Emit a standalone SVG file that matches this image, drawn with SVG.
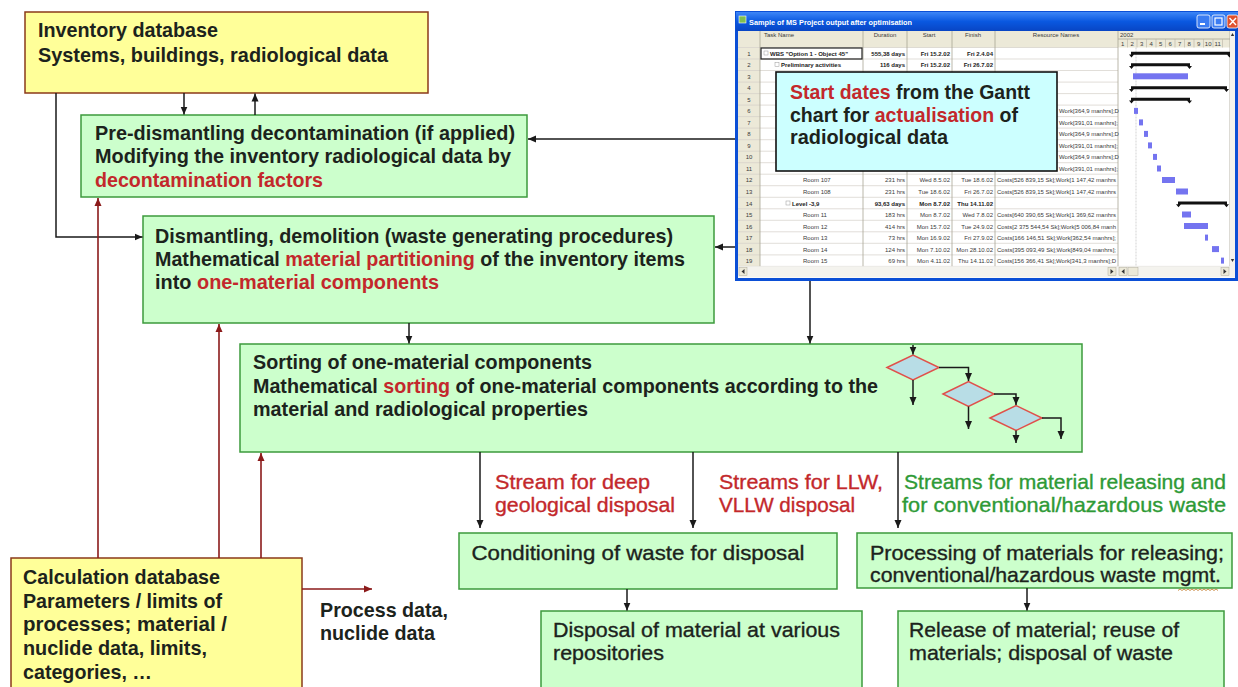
<svg xmlns="http://www.w3.org/2000/svg" width="1238" height="687" viewBox="0 0 1238 687">
<defs>
<style>
.yb{fill:#FFFF99;stroke:#8B3A1A;stroke-width:1.5}
.gb{fill:#CCFFCC;stroke:#3C9A3C;stroke-width:1.5}
.t{font-family:"Liberation Sans",Arial,sans-serif;font-weight:bold;font-size:19.7px;fill:#1C231C}
.n{font-family:"Liberation Sans",Arial,sans-serif;font-size:21px;fill:#1C231C;stroke:#1C231C;stroke-width:0.35}
.r{fill:#C3282B}
.n.r{stroke:#C3282B}
.g{fill:#2E9A36}
.n.g{stroke:#2E9A36}
.k{stroke:#1a1a1a;stroke-width:1.5;fill:none}
.dr{stroke:#8B1A1A;stroke-width:1.6;fill:none}
.dm{fill:#B8DDE6;stroke:#E0504A;stroke-width:1.5}
.s{font-family:"Liberation Sans",Arial,sans-serif;font-size:6px;fill:#3a3a3a}
.sb{font-weight:bold;fill:#222}
.ra{text-anchor:end}
.mid{text-anchor:middle}
.grid{stroke:#D4D0C8;stroke-width:0.7;fill:none}
.bar{fill:#7474F0}
.sum{fill:#111}
.btn{fill:#ECE9D8;stroke:#B0AC9C;stroke-width:0.5}
</style>
<linearGradient id="tb" x1="0" y1="0" x2="0" y2="1">
<stop offset="0" stop-color="#3D86F7"/>
<stop offset="0.5" stop-color="#0A58E0"/>
<stop offset="1" stop-color="#0845C4"/>
</linearGradient>
<marker id="ak" markerUnits="userSpaceOnUse" markerWidth="9" markerHeight="8" refX="8" refY="4" orient="auto"><path d="M0,0.5 L8,4 L0,7.5 z" fill="#1a1a1a"/></marker>
<marker id="ar" markerUnits="userSpaceOnUse" markerWidth="9" markerHeight="8" refX="8" refY="4" orient="auto"><path d="M0,0.5 L8,4 L0,7.5 z" fill="#8B1A1A"/></marker>
</defs>
<rect x="0" y="0" width="1238" height="687" fill="#FFFFFF"/>

<!-- Gantt screenshot -->
<g id="gantt-screenshot">
<rect x="735" y="11" width="503" height="270" fill="#0B4FD6"/>
<rect x="736" y="12" width="502" height="19" fill="url(#tb)"/>
<rect x="739" y="16" width="7" height="7" fill="#7FBF4F" stroke="#fff" stroke-width="0.6"/>
<text x="749" y="25" font-family="Liberation Sans, Arial, sans-serif" font-size="7.5" font-weight="bold" fill="#FFFFFF" textLength="163" lengthAdjust="spacingAndGlyphs">Sample of MS Project output after optimisation</text>
<rect x="1197" y="15" width="13" height="13" rx="2" fill="#3B7CF2" stroke="#fff" stroke-width="0.8"/>
<rect x="1200" y="23" width="5" height="2" fill="#fff"/>
<rect x="1212" y="15" width="13" height="13" rx="2" fill="#3B7CF2" stroke="#fff" stroke-width="0.8"/>
<rect x="1215" y="18" width="7" height="7" fill="none" stroke="#fff" stroke-width="1.2"/>
<rect x="1227" y="15" width="11" height="13" rx="2" fill="#E0502E" stroke="#fff" stroke-width="0.8"/>
<path d="M1229.5,18 L1236,25 M1236,18 L1229.5,25" stroke="#fff" stroke-width="1.4"/>
<rect x="738" y="31" width="497" height="247" fill="#FFFFFF"/>
<rect x="738" y="31" width="492" height="16.5" fill="#ECE9D8"/>
<rect x="738" y="47.5" width="22" height="219" fill="#ECE9D8"/>
<path class="grid" d="M738,47.5H1118M738,59H1118M738,70.5H1118M738,82.1H1118M738,93.6H1118M738,105.1H1118M738,116.6H1118M738,128.1H1118M738,139.7H1118M738,151.2H1118M738,162.7H1118M738,174.2H1118M738,185.7H1118M738,197.3H1118M738,208.8H1118M738,220.3H1118M738,231.8H1118M738,243.3H1118M738,254.9H1118M738,266.4H1230"/>
<path d="M760,31V266.4M863,31V266.4M907,31V266.4M952,31V266.4M995,31V266.4M1118,31V266.4M1230,31V266.4M1118,39H1230" stroke="#A8A496" stroke-width="0.8" fill="none"/>
<path d="M1127.5,39V47.5M1137,39V47.5M1146.5,39V47.5M1156,39V47.5M1165.5,39V47.5M1175,39V47.5M1184.5,39V47.5M1194,39V47.5M1203.5,39V47.5M1213,39V47.5M1222.5,39V47.5" stroke="#B8B4A6" stroke-width="0.6"/>
<text class="s" x="764" y="37">Task Name</text>
<text class="s mid" x="885" y="37">Duration</text>
<text class="s mid" x="929" y="37">Start</text>
<text class="s mid" x="973" y="37">Finish</text>
<text class="s mid" x="1056" y="37">Resource Names</text>
<text class="s" x="1120" y="37">2002</text>
<text class="s mid" x="1122.7" y="45.5">1</text><text class="s mid" x="1132.2" y="45.5">2</text><text class="s mid" x="1141.7" y="45.5">3</text><text class="s mid" x="1151.2" y="45.5">4</text><text class="s mid" x="1160.7" y="45.5">5</text><text class="s mid" x="1170.2" y="45.5">6</text><text class="s mid" x="1179.7" y="45.5">7</text><text class="s mid" x="1189.2" y="45.5">8</text><text class="s mid" x="1198.7" y="45.5">9</text><text class="s mid" x="1208.2" y="45.5">10</text><text class="s mid" x="1217.7" y="45.5">11</text>
<path d="M1136,47.5V266.4" stroke="#C8C8C8" stroke-width="0.8" stroke-dasharray="2,1"/>
<g class="s mid">
<text x="749" y="55.7">1</text><text x="749" y="67.2">2</text><text x="749" y="78.7">3</text><text x="749" y="90.3">4</text><text x="749" y="101.8">5</text><text x="749" y="113.3">6</text><text x="749" y="124.8">7</text><text x="749" y="136.3">8</text><text x="749" y="147.9">9</text><text x="749" y="159.4">10</text><text x="749" y="170.9">11</text><text x="749" y="182.4">12</text><text x="749" y="193.9">13</text><text x="749" y="205.5">14</text><text x="749" y="217">15</text><text x="749" y="228.5">16</text><text x="749" y="240">17</text><text x="749" y="251.5">18</text><text x="749" y="263.1">19</text>
</g>
<rect x="761" y="48" width="101" height="11" fill="none" stroke="#222" stroke-width="1.2"/>
<rect x="764" y="51" width="4" height="4" fill="#fff" stroke="#999" stroke-width="0.5"/>
<text class="s sb" x="770" y="55.7">WBS "Option 1 - Object 45"</text>
<text class="s sb ra" x="905" y="55.7">555,38 days</text>
<text class="s sb ra" x="950" y="55.7">Fri 15.2.02</text>
<text class="s sb ra" x="993" y="55.7">Fri 2.4.04</text>
<rect x="775" y="62.5" width="4" height="4" fill="#fff" stroke="#999" stroke-width="0.5"/>
<text class="s sb" x="781" y="67.2">Preliminary activities</text>
<text class="s sb ra" x="905" y="67.2">116 days</text>
<text class="s sb ra" x="950" y="67.2">Fri 15.2.02</text>
<text class="s sb ra" x="993" y="67.2">Fri 26.7.02</text>
<text class="s" x="1059" y="113.3">Work[364,9 manhrs];D</text>
<text class="s" x="1059" y="124.8">Work[391,01 manhrs];</text>
<text class="s" x="1059" y="136.3">Work[364,9 manhrs];D</text>
<text class="s" x="1059" y="147.9">Work[391,01 manhrs];</text>
<text class="s" x="1059" y="159.4">Work[364,9 manhrs];D</text>
<text class="s" x="1059" y="170.9">Work[391,01 manhrs];</text>
<text class="s" x="803" y="182.4">Room 107</text>
<text class="s ra" x="905" y="182.4">231 hrs</text>
<text class="s ra" x="950" y="182.4">Wed 8.5.02</text>
<text class="s ra" x="993" y="182.4">Tue 18.6.02</text>
<text class="s" x="997" y="182.4" textLength="119" lengthAdjust="spacingAndGlyphs">Costs[526 839,15 Sk];Work[1 147,42 manhrs</text>
<text class="s" x="803" y="193.9">Room 108</text>
<text class="s ra" x="905" y="193.9">231 hrs</text>
<text class="s ra" x="950" y="193.9">Tue 18.6.02</text>
<text class="s ra" x="993" y="193.9">Fri 26.7.02</text>
<text class="s" x="997" y="193.9" textLength="119" lengthAdjust="spacingAndGlyphs">Costs[526 839,15 Sk];Work[1 147,42 manhrs</text>
<rect x="786" y="201" width="4" height="4" fill="#fff" stroke="#999" stroke-width="0.5"/>
<text class="s sb" x="792" y="205.5">Level -3,9</text>
<text class="s sb ra" x="905" y="205.5">93,63 days</text>
<text class="s sb ra" x="950" y="205.5">Mon 8.7.02</text>
<text class="s sb ra" x="993" y="205.5">Thu 14.11.02</text>
<text class="s" x="803" y="217">Room 11</text>
<text class="s ra" x="905" y="217">183 hrs</text>
<text class="s ra" x="950" y="217">Mon 8.7.02</text>
<text class="s ra" x="993" y="217">Wed 7.8.02</text>
<text class="s" x="997" y="217" textLength="119" lengthAdjust="spacingAndGlyphs">Costs[640 390,65 Sk];Work[1 369,62 manhrs</text>
<text class="s" x="803" y="228.5">Room 12</text>
<text class="s ra" x="905" y="228.5">414 hrs</text>
<text class="s ra" x="950" y="228.5">Mon 15.7.02</text>
<text class="s ra" x="993" y="228.5">Tue 24.9.02</text>
<text class="s" x="997" y="228.5" textLength="119" lengthAdjust="spacingAndGlyphs">Costs[2 375 544,54 Sk];Work[5 006,84 manh</text>
<text class="s" x="803" y="240">Room 13</text>
<text class="s ra" x="905" y="240">73 hrs</text>
<text class="s ra" x="950" y="240">Mon 16.9.02</text>
<text class="s ra" x="993" y="240">Fri 27.9.02</text>
<text class="s" x="997" y="240" textLength="119" lengthAdjust="spacingAndGlyphs">Costs[166 146,51 Sk];Work[362,54 manhrs];</text>
<text class="s" x="803" y="251.5">Room 14</text>
<text class="s ra" x="905" y="251.5">124 hrs</text>
<text class="s ra" x="950" y="251.5">Mon 7.10.02</text>
<text class="s ra" x="993" y="251.5">Mon 28.10.02</text>
<text class="s" x="997" y="251.5" textLength="119" lengthAdjust="spacingAndGlyphs">Costs[395 093,49 Sk];Work[849,04 manhrs];</text>
<text class="s" x="803" y="263.1">Room 15</text>
<text class="s ra" x="905" y="263.1">69 hrs</text>
<text class="s ra" x="950" y="263.1">Mon 4.11.02</text>
<text class="s ra" x="993" y="263.1">Thu 14.11.02</text>
<text class="s" x="997" y="263.1" textLength="119" lengthAdjust="spacingAndGlyphs">Costs[156 366,41 Sk];Work[341,3 manhrs];D</text>
<path class="sum" d="M1131,51.8H1230V54.8H1131Z M1129,54.5H1134L1131.5,57.5Z M1227,54.5H1232L1229.5,57.5Z"/>
<path class="sum" d="M1131,63.3H1190V66.3H1131Z M1129,66H1134L1131.5,69Z M1187,66H1192L1189.5,69Z"/>
<rect class="bar" x="1133" y="73.3" width="55" height="6"/>
<path class="sum" d="M1131,86.3H1227V89.3H1131Z M1129,89H1134L1131.5,92Z M1224,89H1229L1226.5,92Z"/>
<path class="sum" d="M1131,97.8H1190V100.8H1131Z M1129,100.5H1134L1131.5,103.5Z M1187,100.5H1192L1189.5,103.5Z"/>
<rect class="bar" x="1134" y="107.9" width="4" height="6"/>
<rect class="bar" x="1139" y="119.4" width="4" height="6"/>
<rect class="bar" x="1144" y="130.9" width="4" height="6"/>
<rect class="bar" x="1148" y="142.4" width="4" height="6"/>
<rect class="bar" x="1153" y="153.9" width="4" height="6"/>
<rect class="bar" x="1157" y="165.5" width="4" height="6"/>
<rect class="bar" x="1162" y="177" width="13" height="6"/>
<rect class="bar" x="1176" y="188.5" width="12" height="6"/>
<path class="sum" d="M1178,201.5H1227V204.5H1178Z M1176,204.2H1181L1178.5,207.2Z M1224,204.2H1229L1226.5,207.2Z"/>
<rect class="bar" x="1182" y="211.5" width="9" height="6"/>
<rect class="bar" x="1184" y="223" width="24" height="6"/>
<rect class="bar" x="1205" y="234.6" width="3" height="6"/>
<rect class="bar" x="1212" y="246.1" width="7" height="6"/>
<rect class="bar" x="1221" y="257.6" width="3" height="6"/>
<rect x="738" y="266.4" width="497" height="11" fill="#F4F3EE"/>
<rect class="btn" x="739" y="267.5" width="8" height="8"/>
<path d="M744.5,269L741.5,271.5L744.5,274Z" fill="#333"/>
<rect class="btn" x="1108" y="267.5" width="8" height="8"/>
<path d="M1110.5,269L1113.5,271.5L1110.5,274Z" fill="#333"/>
<rect class="btn" x="1119" y="267.5" width="8" height="8"/>
<path d="M1124.5,269L1121.5,271.5L1124.5,274Z" fill="#333"/>
<rect class="btn" x="1128" y="267.5" width="10" height="8"/>
<rect class="btn" x="1221" y="267.5" width="8" height="8"/>
<path d="M1223.5,269L1226.5,271.5L1223.5,274Z" fill="#333"/>
<rect x="1230" y="31" width="5" height="236" fill="#F4F3EE"/>
<path d="M1232.5,33L1230.8,36H1234.2Z" fill="#333"/>
<path d="M1232.5,262L1230.8,259H1234.2Z" fill="#333"/>
<rect x="776" y="72" width="281" height="99" fill="#CCFFFF" stroke="#111" stroke-width="1.6"/>
<text class="t" x="790" y="99" font-size="20" textLength="240" lengthAdjust="spacingAndGlyphs"><tspan class="r">Start dates</tspan> from the Gantt</text>
<text class="t" x="790" y="122" font-size="20" textLength="228" lengthAdjust="spacingAndGlyphs">chart for <tspan class="r">actualisation</tspan> of</text>
<text class="t" x="790" y="144" font-size="20" textLength="158" lengthAdjust="spacingAndGlyphs">radiological data</text>
</g>

<g id="inventory-db">
<rect class="yb" x="25" y="12" width="403" height="81"/>
<text class="t" x="38" y="37" textLength="180" lengthAdjust="spacingAndGlyphs">Inventory database</text>
<text class="t" x="38" y="62" textLength="350" lengthAdjust="spacingAndGlyphs">Systems, buildings, radiological data</text>
</g>

<g id="pre-dismantling">
<rect class="gb" x="81" y="115" width="446" height="82"/>
<text class="t" x="95" y="140" textLength="420" lengthAdjust="spacingAndGlyphs">Pre-dismantling decontamination (if applied)</text>
<text class="t" x="95" y="163" textLength="416" lengthAdjust="spacingAndGlyphs">Modifying the inventory radiological data by</text>
<text class="t r" x="95" y="187" textLength="228" lengthAdjust="spacingAndGlyphs">decontamination factors</text>
</g>

<g id="dismantling">
<rect class="gb" x="143" y="216" width="571" height="107"/>
<text class="t" x="155" y="243" textLength="518" lengthAdjust="spacingAndGlyphs">Dismantling, demolition (waste generating procedures)</text>
<text class="t" x="155" y="266" textLength="530" lengthAdjust="spacingAndGlyphs">Mathematical <tspan class="r">material partitioning</tspan> of the inventory items</text>
<text class="t" x="155" y="289" textLength="284" lengthAdjust="spacingAndGlyphs">into <tspan class="r">one-material components</tspan></text>
</g>

<g id="sorting">
<rect class="gb" x="240" y="344" width="842" height="108"/>
<text class="t" x="253" y="369" textLength="339" lengthAdjust="spacingAndGlyphs">Sorting of one-material components</text>
<text class="t" x="253" y="393" textLength="625" lengthAdjust="spacingAndGlyphs">Mathematical <tspan class="r">sorting</tspan> of one-material components according to the</text>
<text class="t" x="253" y="416" textLength="335" lengthAdjust="spacingAndGlyphs">material and radiological properties</text>
<polygon class="dm" points="887,367.5 913,355 939,367.5 913,380"/>
<polygon class="dm" points="943,394 968.5,381.5 994,394 968.5,406.5"/>
<polygon class="dm" points="990,418 1016,405.5 1042,418 1016,430.5"/>
<g class="k" stroke-width="1.3">
<path d="M913,345V354.5" marker-end="url(#ak)"/>
<path d="M913,380V405" marker-end="url(#ak)"/>
<path d="M939,367.5H968.5V381" marker-end="url(#ak)"/>
<path d="M968.5,406.5V429" marker-end="url(#ak)"/>
<path d="M994,394H1016V405" marker-end="url(#ak)"/>
<path d="M1016,430.5V443" marker-end="url(#ak)"/>
<path d="M1042,418H1061V439" marker-end="url(#ak)"/>
</g>
</g>

<g id="conditioning">
<rect class="gb" x="459" y="533" width="378" height="56"/>
<text class="n" x="471.5" y="560" textLength="333" lengthAdjust="spacingAndGlyphs">Conditioning of  waste  for disposal</text>
</g>

<g id="processing">
<rect class="gb" x="857" y="533" width="375" height="55"/>
<text class="n" x="870" y="560" textLength="354" lengthAdjust="spacingAndGlyphs">Processing  of materials for releasing;</text>
<text class="n" x="870" y="582" textLength="351" lengthAdjust="spacingAndGlyphs">conventional/hazardous waste mgmt.</text>
<polyline points="1178,590.5 1180,589 1182,590.5 1184,589 1186,590.5 1188,589 1190,590.5 1192,589 1194,590.5 1196,589 1198,590.5 1200,589 1202,590.5 1204,589 1206,590.5 1208,589 1210,590.5 1212,589 1214,590.5 1216,589 1218,590.5" fill="none" stroke="#C8843A" stroke-width="0.9"/>
</g>

<g id="disposal">
<rect class="gb" x="541" y="611" width="321" height="85"/>
<text class="n" x="553" y="637" textLength="287" lengthAdjust="spacingAndGlyphs">Disposal  of material at various</text>
<text class="n" x="553" y="660" textLength="111" lengthAdjust="spacingAndGlyphs">repositories</text>
</g>

<g id="release">
<rect class="gb" x="898" y="611" width="326" height="85"/>
<text class="n" x="909" y="637" textLength="270" lengthAdjust="spacingAndGlyphs">Release of material; reuse of</text>
<text class="n" x="909" y="660" textLength="264" lengthAdjust="spacingAndGlyphs">materials; disposal of waste</text>
</g>

<g id="calculation-db">
<rect class="yb" x="11" y="558" width="291" height="140"/>
<text class="t" x="23" y="584" textLength="197" lengthAdjust="spacingAndGlyphs">Calculation database</text>
<text class="t" x="23" y="608" textLength="199" lengthAdjust="spacingAndGlyphs">Parameters / limits of</text>
<text class="t" x="23" y="631" textLength="204" lengthAdjust="spacingAndGlyphs">processes;  material  /</text>
<text class="t" x="23" y="655" textLength="184" lengthAdjust="spacingAndGlyphs">nuclide data, limits,</text>
<text class="t" x="23" y="679" textLength="129" lengthAdjust="spacingAndGlyphs">categories, …</text>
</g>

<g id="labels">
<text class="t" x="320" y="617" textLength="128" lengthAdjust="spacingAndGlyphs">Process  data,</text>
<text class="t" x="320" y="640" textLength="115" lengthAdjust="spacingAndGlyphs">nuclide data</text>
<text class="n r" x="495" y="489" textLength="155" lengthAdjust="spacingAndGlyphs">Stream for  deep</text>
<text class="n r" x="495" y="512" textLength="180" lengthAdjust="spacingAndGlyphs">geological disposal</text>
<text class="n r" x="719" y="489" textLength="164" lengthAdjust="spacingAndGlyphs">Streams for  LLW,</text>
<text class="n r" x="719" y="512" textLength="136" lengthAdjust="spacingAndGlyphs">VLLW disposal</text>
<text class="n g" x="904" y="489" textLength="322" lengthAdjust="spacingAndGlyphs">Streams for material releasing and</text>
<text class="n g" x="902" y="512" textLength="324" lengthAdjust="spacingAndGlyphs">for conventional/hazardous  waste</text>
</g>

<g id="connectors">
<g class="k">
<path d="M184,93V114.5" marker-end="url(#ak)"/>
<path d="M255,115V93.5" marker-end="url(#ak)"/>
<path d="M56,93V237H142.5" marker-end="url(#ak)"/>
<path d="M735,139H528" marker-end="url(#ak)"/>
<path d="M735,247H715" marker-end="url(#ak)"/>
<path d="M810,281V343.5" marker-end="url(#ak)"/>
<path d="M409,323V343.5" marker-end="url(#ak)"/>
<path d="M480,452V528" marker-end="url(#ak)"/>
<path d="M693,452V528" marker-end="url(#ak)"/>
<path d="M898,452V528" marker-end="url(#ak)"/>
<path d="M627,589V610.5" marker-end="url(#ak)"/>
<path d="M1027,588V610.5" marker-end="url(#ak)"/>
</g>
<g class="dr">
<path d="M98,558V198" marker-end="url(#ar)"/>
<path d="M219,558V324" marker-end="url(#ar)"/>
<path d="M261,558V453" marker-end="url(#ar)"/>
<path d="M302,589H372" marker-end="url(#ar)"/>
</g>
</g>
</svg>
